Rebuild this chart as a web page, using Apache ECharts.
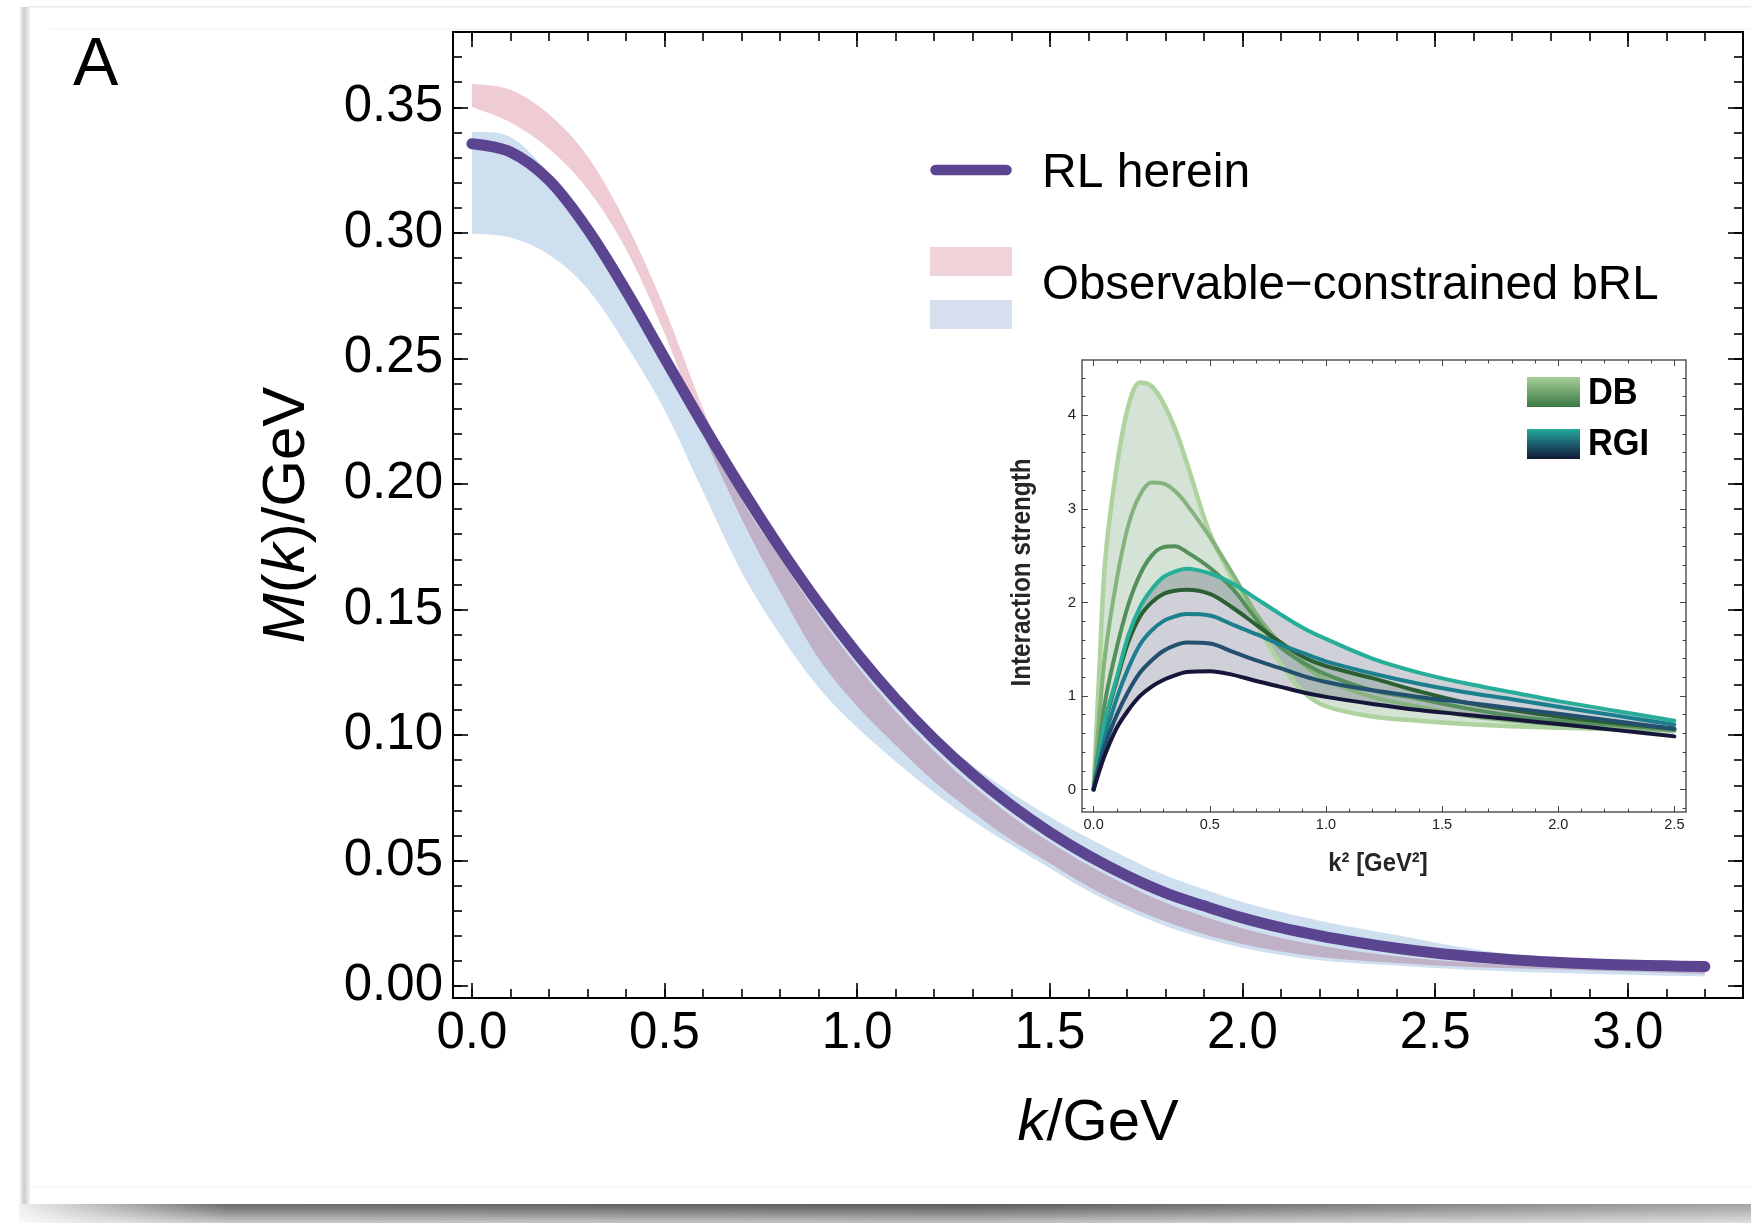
<!DOCTYPE html>
<html><head><meta charset="utf-8">
<script src="https://cdn.jsdelivr.net/npm/echarts@6/dist/echarts.min.js"></script>
<style>html,body{margin:0;padding:0;background:#fff;}#c{width:1751px;height:1223px;}</style>
</head><body><div id="c"></div>
<script>
// ---------------- main panel data ----------------
const kValues = [0,0.1,0.2,0.3,0.4,0.5,0.6,0.7,0.8,0.9,1.0,1.1,1.2,1.3,1.4,1.5,1.6,1.7,1.8,1.9,2.0,2.1,2.2,2.3,2.4,2.5,2.6,2.7,2.8,2.9,3.0,3.1,3.2];
const rlMass = [0.3355,0.3322,0.3210,0.3015,0.2770,0.2502,0.2236,0.1982,0.1744,0.1524,0.1324,0.1144,0.0984,0.0843,0.0720,0.0613,0.0520,0.0440,0.0372,0.0320,0.0272,0.0233,0.0201,0.0174,0.0151,0.0132,0.0117,0.0105,0.0096,0.0089,0.0084,0.0081,0.0078];
const pinkUpper = [0.3594,0.3570,0.3472,0.3305,0.3040,0.2700,0.2300,0.1940,0.1704,0.1476,0.1274,0.1094,0.0936,0.0798,0.0678,0.0573,0.0482,0.0402,0.0332,0.0278,0.0230,0.0192,0.0162,0.0138,0.0119,0.0104,0.0093,0.0084,0.0076,0.0069,0.0064,0.0061,0.0058];
const pinkLower = [0.3501,0.3440,0.3335,0.3175,0.2935,0.2600,0.2200,0.1862,0.1570,0.1305,0.1115,0.0960,0.0815,0.0693,0.0582,0.0490,0.0397,0.0320,0.0258,0.0207,0.0168,0.0138,0.0116,0.0102,0.0092,0.0082,0.0076,0.0071,0.0067,0.0063,0.0059,0.0054,0.0049];
const blueUpper = [0.3403,0.3382,0.3235,0.3017,0.2765,0.2497,0.2231,0.1977,0.1739,0.1519,0.1319,0.1140,0.0999,0.0878,0.0770,0.0675,0.0590,0.0512,0.0442,0.0386,0.0335,0.0295,0.0261,0.0231,0.0204,0.0174,0.0147,0.0127,0.0111,0.0099,0.0089,0.0081,0.0073];
const blueLower = [0.2997,0.2982,0.2913,0.2778,0.2555,0.2295,0.1970,0.1650,0.1400,0.1190,0.1030,0.0895,0.0770,0.0659,0.0562,0.0470,0.0379,0.0303,0.0240,0.0191,0.0153,0.0124,0.0103,0.0090,0.0082,0.0072,0.0065,0.0059,0.0054,0.0050,0.0046,0.0042,0.0039];
const xTickValues = [0,0.5,1.0,1.5,2.0,2.5,3.0];
const xMinorTicks = [0,0.1,0.2,0.3,0.4,0.5,0.6,0.7,0.8,0.9,1.0,1.1,1.2,1.3,1.4,1.5,1.6,1.7,1.8,1.9,2.0,2.1,2.2,2.3,2.4,2.5,2.6,2.7,2.8,2.9,3.0,3.1,3.2];
const yTickValues = [0,0.05,0.10,0.15,0.20,0.25,0.30,0.35];
const yMinorTicks = [0,0.01,0.02,0.03,0.04,0.05,0.06,0.07,0.08,0.09,0.10,0.11,0.12,0.13,0.14,0.15,0.16,0.17,0.18,0.19,0.20,0.21,0.22,0.23,0.24,0.25,0.26,0.27,0.28,0.29,0.30,0.31,0.32,0.33,0.34,0.35,0.36,0.37];

// ---------------- inset data ----------------
const insetK2 = [0,0.025,0.05,0.1,0.15,0.2,0.25,0.3,0.35,0.4,0.5,0.6,0.7,0.8,0.9,1.0,1.2,1.4,1.6,1.8,2.0,2.25,2.5];
const db1 = [0,1.30,2.45,3.45,4.10,4.35,4.31,4.13,3.86,3.50,2.74,2.24,1.78,1.36,1.05,0.89,0.78,0.735,0.70,0.675,0.66,0.645,0.63];
const db2 = [0,0.80,1.45,2.25,2.83,3.15,3.28,3.27,3.19,3.05,2.70,2.30,1.88,1.57,1.34,1.17,0.99,0.885,0.79,0.735,0.695,0.66,0.63];
const db3 = [0,0.50,0.95,1.52,1.98,2.30,2.50,2.59,2.60,2.54,2.37,2.14,1.82,1.53,1.36,1.23,1.06,0.97,0.87,0.79,0.735,0.69,0.64];
const db4 = [0,0.38,0.72,1.17,1.58,1.85,2.00,2.09,2.125,2.135,2.09,1.94,1.76,1.58,1.42,1.32,1.19,1.05,0.93,0.85,0.78,0.71,0.65];
const rgi1 = [0,0.40,0.75,1.20,1.65,1.95,2.14,2.27,2.33,2.36,2.31,2.20,2.04,1.88,1.73,1.61,1.40,1.25,1.135,1.04,0.945,0.84,0.735];
const rgi2 = [0,0.30,0.57,0.98,1.30,1.55,1.70,1.80,1.85,1.875,1.86,1.76,1.66,1.555,1.46,1.37,1.24,1.13,1.04,0.965,0.885,0.79,0.693];
const rgi3 = [0,0.27,0.48,0.80,1.05,1.25,1.38,1.48,1.54,1.57,1.56,1.47,1.38,1.30,1.215,1.15,1.06,0.99,0.93,0.87,0.81,0.73,0.65];
const rgi4 = [0,0.20,0.38,0.66,0.85,1.00,1.10,1.17,1.22,1.255,1.265,1.225,1.16,1.10,1.04,0.99,0.915,0.85,0.80,0.75,0.70,0.635,0.568];
const insetXTicks = [0,0.5,1.0,1.5,2.0,2.5];
const insetXMinor = [0,0.1,0.2,0.3,0.4,0.5,0.6,0.7,0.8,0.9,1.0,1.1,1.2,1.3,1.4,1.5,1.6,1.7,1.8,1.9,2.0,2.1,2.2,2.3,2.4,2.5];
const insetYTicks = [0,1,2,3,4];
const insetYMinor = [-0.2,0,0.2,0.4,0.6,0.8,1.0,1.2,1.4,1.6,1.8,2.0,2.2,2.4,2.6,2.8,3.0,3.2,3.4,3.6,3.8,4.0,4.2,4.4];

// ---------------- helpers ----------------
const FONT = 'Liberation Sans';
function crPath(pts){
  let d='';
  for(let i=0;i<pts.length-1;i++){
    const p0=pts[i-1]||pts[i], p1=pts[i], p2=pts[i+1], p3=pts[i+2]||pts[i+1];
    const c1x=p1[0]+(p2[0]-p0[0])/6, c1y=p1[1]+(p2[1]-p0[1])/6;
    const c2x=p2[0]-(p3[0]-p1[0])/6, c2y=p2[1]-(p3[1]-p1[1])/6;
    d+=' C'+c1x.toFixed(2)+','+c1y.toFixed(2)+' '+c2x.toFixed(2)+','+c2y.toFixed(2)+' '+p2[0].toFixed(2)+','+p2[1].toFixed(2);
  }
  return d;
}
function bandSeries(name, xs, lo, hi, color, axisIdx, zlevel){
  return {
    type:'custom', name, xAxisIndex:axisIdx, yAxisIndex:axisIdx, zlevel, z:2, silent:true, animation:false,
    data: xs.map((x,i)=>[x, lo[i], hi[i]]),
    encode:{x:0, y:[1,2]},
    renderItem:(params, api)=>{
      if(params.dataIndex!==0) return null;
      const up = xs.map((x,i)=>api.coord([x,hi[i]]));
      const dn = xs.map((x,i)=>api.coord([x,lo[i]])).reverse();
      const d = 'M'+up[0][0]+','+up[0][1]+crPath(up)+' L'+dn[0][0]+','+dn[0][1]+crPath(dn)+' Z';
      return {type:'path', shape:{pathData:d}, style:{fill:color, stroke:null}};
    }
  };
}
function lineSeries(name, xs, ys, color, width, axisIdx, z){
  return {type:'line', name, xAxisIndex:axisIdx, yAxisIndex:axisIdx, zlevel:2, z, silent:true, animation:false,
    data: xs.map((x,i)=>[x,ys[i]]), smooth:0.35, symbol:'none',
    lineStyle:{color, width, cap:'round', join:'round'}};
}
function axisSet(kind, gridIndex, min, max, major, minor, majLen, minLen, color, lw, labelCfg, nameCfg){
  const base = {type:'value', gridIndex, min, max, splitLine:{show:false}, axisLine:{show:false, onZero:false}};
  const sides = kind==='x' ? ['bottom','top'] : ['left','right'];
  const out=[];
  sides.forEach((pos,si)=>{
    out.push(Object.assign({}, base, {position:pos,
      axisTick:{show:true, inside:true, length:majLen, customValues:major, lineStyle:{color, width:lw}},
      axisLabel: si===0 ? labelCfg : {show:false}}, si===0 ? nameCfg : {}));
    out.push(Object.assign({}, base, {position:pos,
      axisTick:{show:true, inside:true, length:minLen, customValues:minor, lineStyle:{color, width:lw}},
      axisLabel:{show:false}}));
  });
  return out;
}
function nameStyle(sz){
  return {fontSize:sz, fontFamily:FONT, color:'#000',
    rich:{i:{fontStyle:'italic', fontSize:sz, fontFamily:FONT, color:'#000'}, n:{fontSize:sz, fontFamily:FONT, color:'#000'}}};
}

const xAxes = [].concat(
  axisSet('x',0,-0.049,3.299,xTickValues,xMinorTicks,15,9,'#000',1.6,
    {customValues:xTickValues, formatter:v=>v.toFixed(1), fontSize:51, fontFamily:FONT, color:'#000', margin:10},
    {name:'{i|k}{n|/GeV}', nameLocation:'middle', nameGap:97, nameTextStyle:nameStyle(58)}),
  axisSet('x',1,-0.05,2.55,insetXTicks,insetXMinor,6,3.5,'#444',1,
    {customValues:insetXTicks, formatter:v=>v.toFixed(1), fontSize:14.5, fontFamily:FONT, color:'#222', margin:5},{})
);
const yAxes = [].concat(
  axisSet('y',0,-0.0047,0.380,yTickValues,yMinorTicks,15,9,'#000',1.6,
    {customValues:yTickValues, formatter:v=>v.toFixed(2), fontSize:51, fontFamily:FONT, color:'#000', margin:10},
    {name:'{i|M}{n|(}{i|k}{n|)/GeV}', nameLocation:'middle', nameGap:136, nameTextStyle:nameStyle(60)}),
  axisSet('y',1,-0.24,4.59,insetYTicks,insetYMinor,6,3.5,'#444',1,
    {customValues:insetYTicks, formatter:v=>String(v), fontSize:15, fontFamily:FONT, color:'#222', margin:6},{})
);

const series = [
  bandSeries('blue', kValues, blueLower, blueUpper, '#cedff0', 0, 0),
  bandSeries('pink', kValues, pinkLower, pinkUpper, '#efcbd3', 0, 1),
  lineSeries('RL herein', kValues, rlMass, '#5c4590', 11, 0, 5),
  bandSeries('RGI band', insetK2, rgi4, rgi1, '#d0d0d9', 4, 0),
  bandSeries('DB band', insetK2, db4, db1, '#d4e3d6', 4, 1),
  lineSeries('DB1', insetK2, db1, '#aed39e', 4.5, 4, 4),
  lineSeries('DB2', insetK2, db2, '#86b27d', 4, 4, 4),
  lineSeries('DB3', insetK2, db3, '#558f5c', 4, 4, 4),
  lineSeries('DB4', insetK2, db4, '#2c5e34', 4, 4, 4),
  lineSeries('RGI1', insetK2, rgi1, '#26ae98', 4, 4, 5),
  lineSeries('RGI2', insetK2, rgi2, '#1c7f8d', 4, 4, 5),
  lineSeries('RGI3', insetK2, rgi3, '#23506f', 4, 4, 5),
  lineSeries('RGI4', insetK2, rgi4, '#15163a', 4, 4, 5)
];

const graphic = [
  // card decoration
  {type:'rect', z:-10, shape:{x:28,y:6,width:1723,height:1.5}, style:{fill:'#eaeaea'}},
  {type:'rect', z:-10, shape:{x:19,y:7,width:11,height:1198}, style:{fill:{type:'linear',x:0,y:0,x2:1,y2:0,colorStops:[{offset:0,color:'#ffffff'},{offset:0.45,color:'#cbcbcb'},{offset:1,color:'#f3f3f3'}]}}},
  {type:'rect', z:-10, shape:{x:50,y:28.5,width:1701,height:1}, style:{fill:'#f1f1f1'}},
  {type:'rect', z:-10, shape:{x:30,y:1186.5,width:1721,height:1}, style:{fill:'#f0f0f0'}},
  {type:'rect', z:-10, shape:{x:19,y:1204,width:1732,height:19}, style:{fill:{type:'linear',x:0,y:0,x2:0,y2:1,colorStops:[{offset:0,color:'#5a5a5a'},{offset:0.35,color:'#7a7a7a'},{offset:1,color:'#c4c4c4'}]}}},
  {type:'rect', z:-9, shape:{x:19,y:1204,width:1732,height:19}, style:{fill:{type:'linear',x:0,y:0,x2:1,y2:0,colorStops:[{offset:0,color:'rgba(255,255,255,0.9)'},{offset:0.12,color:'rgba(255,255,255,0.1)'},{offset:0.55,color:'rgba(255,255,255,0)'},{offset:1,color:'rgba(255,255,255,0.45)'}]}}},
  // panel letter
  {type:'text', x:73, y:66, style:{text:'A', font:'68px "Liberation Sans"', fill:'#000', align:'left', verticalAlign:'middle'}},
  // main legend
  {type:'line', z:10, shape:{x1:935.5,y1:170,x2:1006.5,y2:170}, style:{stroke:'#5c4590', lineWidth:10.5, lineCap:'round'}},
  {type:'text', z:10, x:1042, y:173.5, style:{text:'RL herein', font:'48px "Liberation Sans"', fill:'#000', align:'left', verticalAlign:'middle'}},
  {type:'rect', z:10, shape:{x:930,y:247,width:82,height:29}, style:{fill:'#efd3d8'}},
  {type:'rect', z:10, shape:{x:930,y:300,width:82,height:29}, style:{fill:'#d5dfee'}},
  {type:'text', z:10, x:1042, y:286, style:{text:'Observable\u2212constrained bRL', font:'47.5px "Liberation Sans"', fill:'#000', align:'left', verticalAlign:'middle'}},
  // inset legend
  {type:'rect', z:10, shape:{x:1527,y:377,width:53,height:30}, style:{fill:{type:'linear',x:0,y:0,x2:0,y2:1,colorStops:[{offset:0,color:'#a8d099'},{offset:1,color:'#3a7842'}]}}},
  {type:'rect', z:10, shape:{x:1527,y:429,width:53,height:30}, style:{fill:{type:'linear',x:0,y:0,x2:0,y2:1,colorStops:[{offset:0,color:'#22aa97'},{offset:0.5,color:'#1b5d6e'},{offset:1,color:'#111a33'}]}}},
  {type:'text', z:10, x:1588, y:393.5, scaleX:0.93, style:{text:'DB', font:'bold 37px "Liberation Sans"', fill:'#000', align:'left', verticalAlign:'middle'}},
  {type:'text', z:10, x:1588, y:445, scaleX:0.93, style:{text:'RGI', font:'bold 37px "Liberation Sans"', fill:'#000', align:'left', verticalAlign:'middle'}},
  // inset axis titles
  {type:'text', z:10, x:1023, y:572.5, rotation:Math.PI/2, scaleX:0.9, style:{text:'Interaction strength', font:'bold 27px "Liberation Sans"', fill:'#262626', align:'center', verticalAlign:'middle'}},
  {type:'text', z:10, x:1378, y:864, scaleX:0.9, style:{text:'k\u00B2 [GeV\u00B2]', font:'bold 26.5px "Liberation Sans"', fill:'#262626', align:'center', verticalAlign:'middle'}}
];

const chart = echarts.init(document.getElementById('c'), null, {renderer:'canvas', width:1751, height:1223});
chart.setOption({
  backgroundColor:'#ffffff',
  animation:false,
  grid:[
    {left:453, top:32, width:1290, height:966, show:true, borderColor:'#000', borderWidth:2, backgroundColor:'transparent'},
    {left:1082, top:360, width:604, height:452, show:true, borderColor:'#555', borderWidth:1.5, backgroundColor:'transparent'}
  ],
  xAxis:xAxes, yAxis:yAxes, series, graphic
});
// overlapping translucent bands combine multiplicatively (as in the original figure)
function applyBlend(){
  document.querySelectorAll('#c canvas').forEach(cv=>{
    if(cv.getAttribute('data-zr-dom-id')==='zr_1'){ cv.style.mixBlendMode='multiply'; }
  });
}
applyBlend();
chart.on('finished', applyBlend);
setTimeout(applyBlend, 0);
</script></body></html>
